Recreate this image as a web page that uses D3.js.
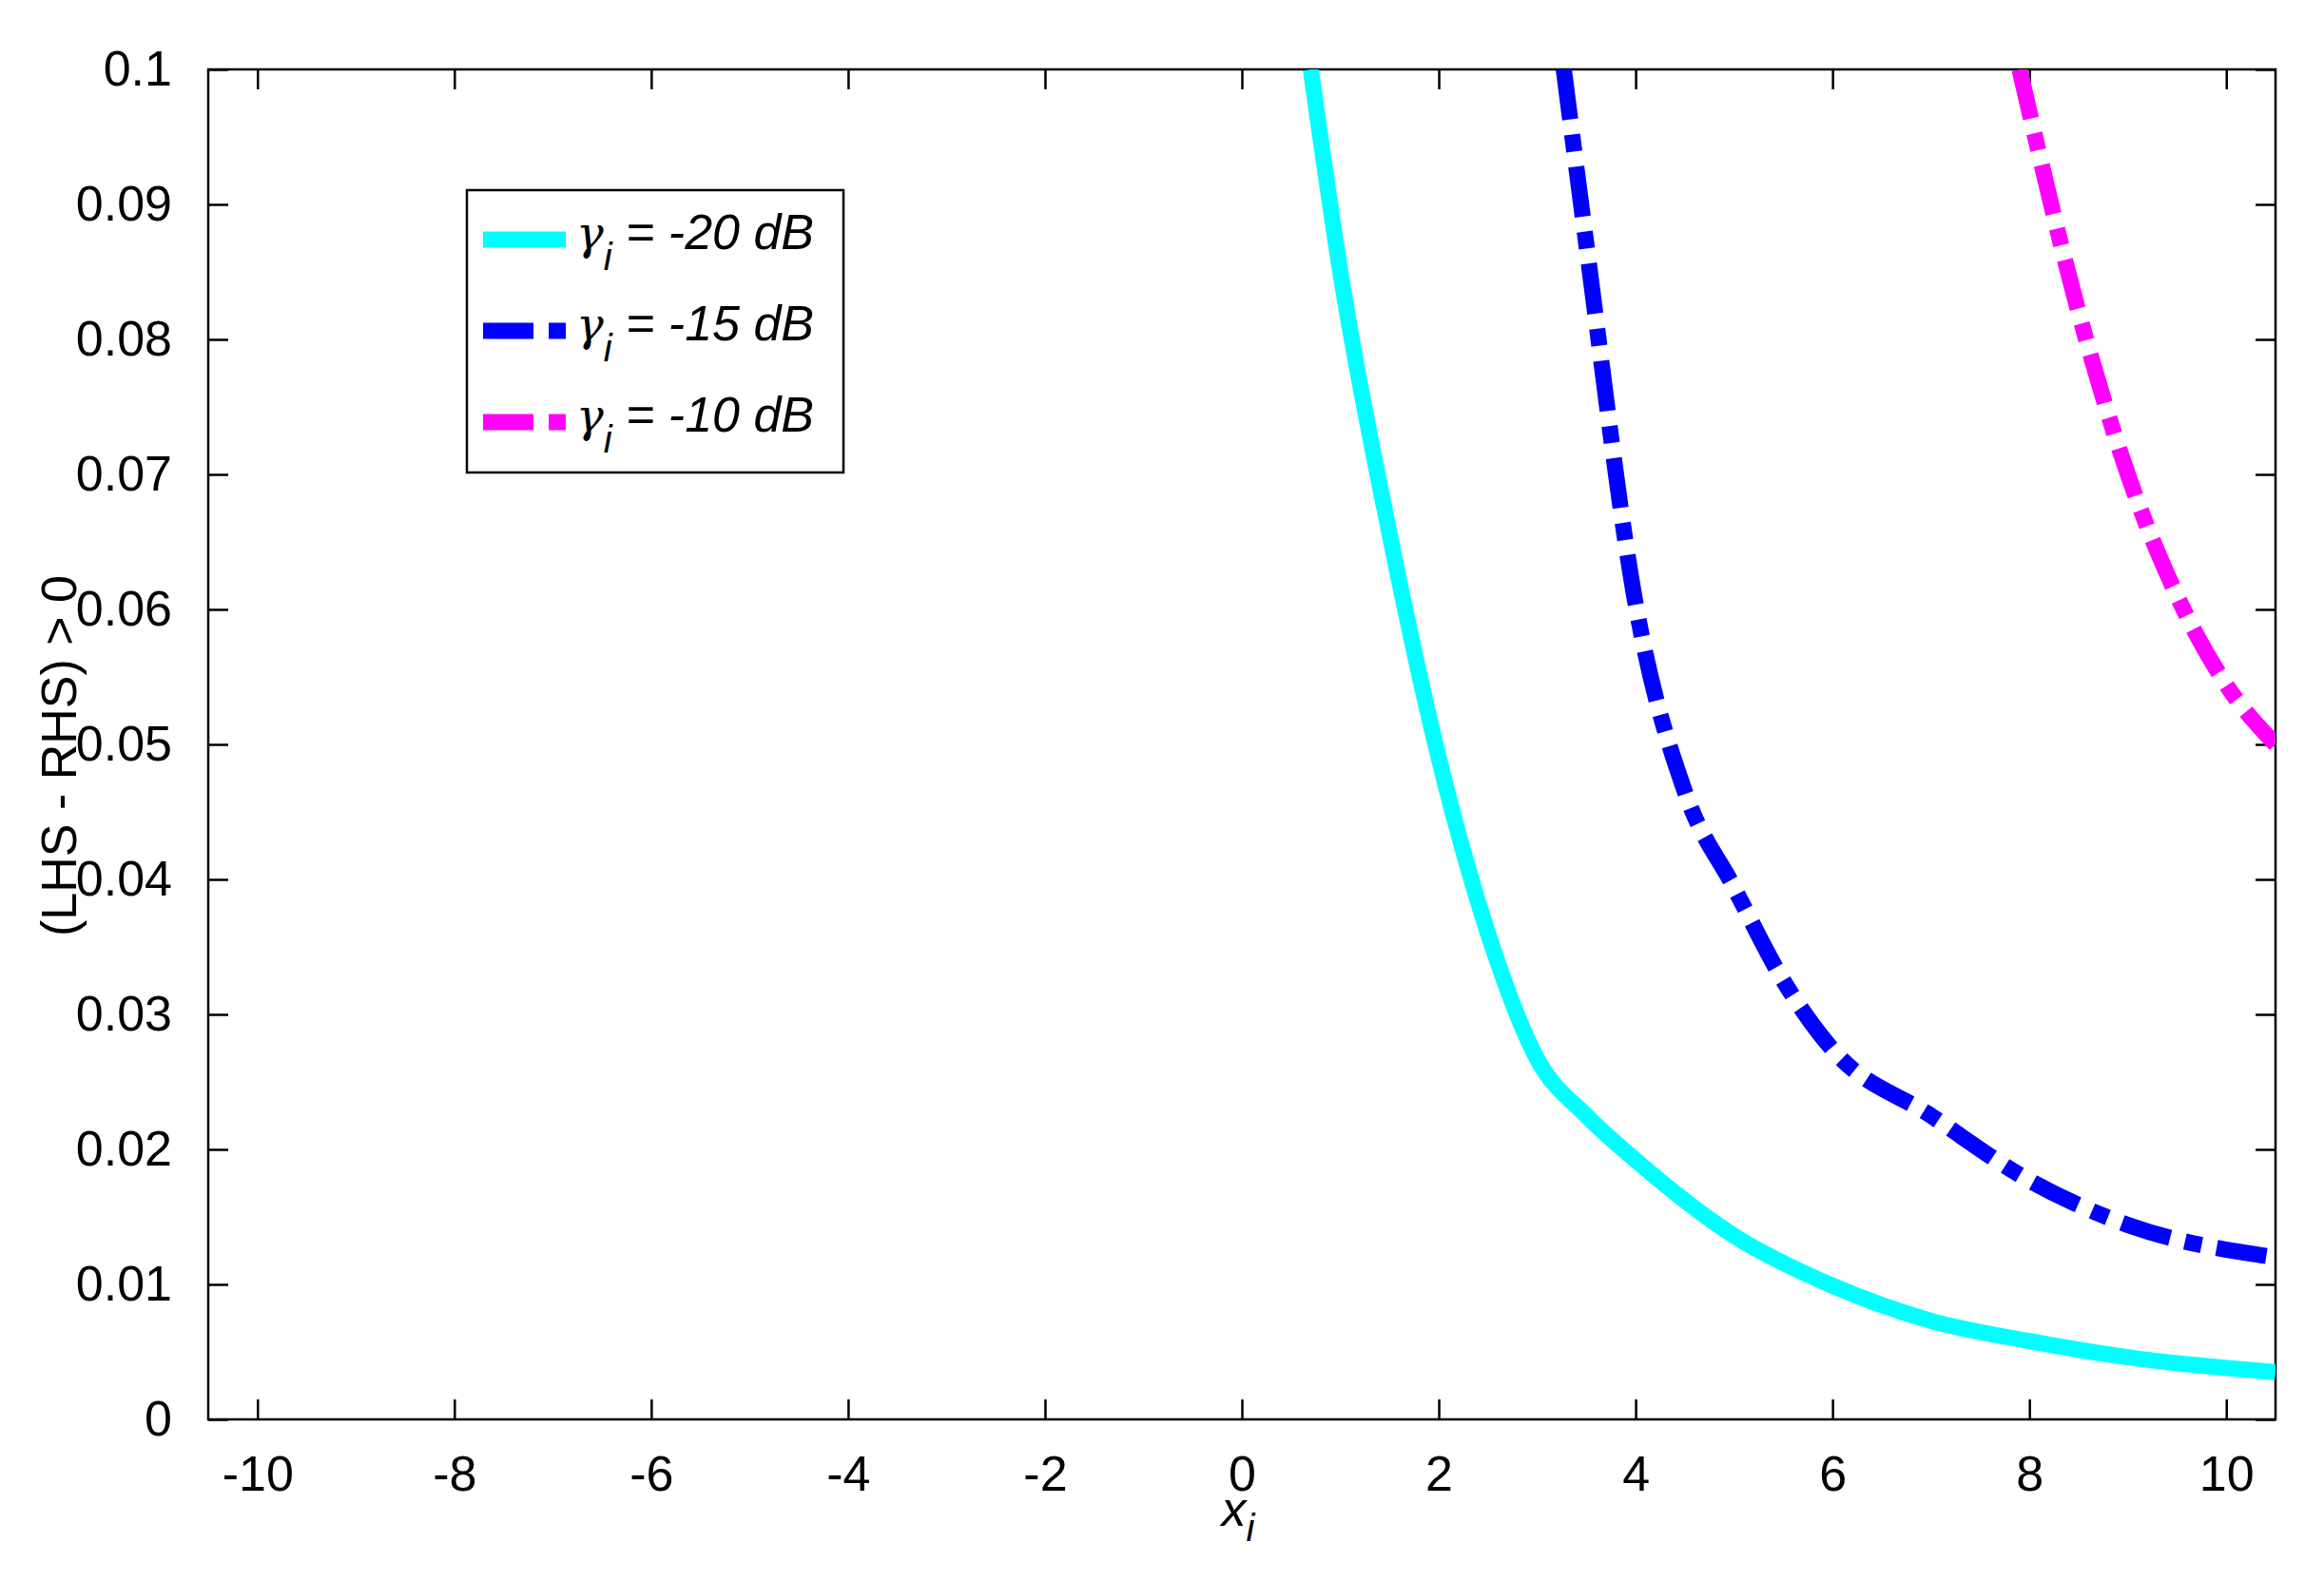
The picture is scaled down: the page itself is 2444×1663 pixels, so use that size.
<!DOCTYPE html>
<html><head><meta charset="utf-8">
<script src="https://cdn.jsdelivr.net/npm/d3@7"></script>
<style>body{margin:0;background:#fff}svg{display:block;font-family:"Liberation Sans",Arial,sans-serif}</style>
</head><body><svg id="c" width="2444" height="1663"></svg>
<script>
const xTicks=[-10,-8,-6,-4,-2,0,2,4,6,8,10];
const yTicks=[0,0.01,0.02,0.03,0.04,0.05,0.06,0.07,0.08,0.09,0.1];
const seriesNames=["-20 dB","-15 dB","-10 dB"];
const seriesColors=["#00ffff","#0000ff","#ff00ff"];
const cyanX=[0.7,1.0,1.5,2.0,2.5,3.0,3.5,4.0,5.0,6.0,7.0,8.0,9.0,10.5];
const cyanY=[0.1,0.085,0.0656,0.049,0.036,0.0267,0.0225,0.0192,0.0136,0.0099,0.0073,0.0058,0.0046,0.0035];
const blueX=[3.27,3.5,4.0,4.5,5.0,5.5,6.0,7.0,8.0,9.0,10.5];
const blueY=[0.1,0.087,0.0604,0.0465,0.0394,0.0325,0.0274,0.0225,0.0177,0.0144,0.012];
const magX=[7.9,8.5,9.0,9.5,10.0,10.5];
const magY=[0.1,0.082,0.070,0.061,0.0544,0.05];

const svg=d3.select("#c");
const L=219,R=2393,T=73,B=1493;
const x=d3.scaleLinear().domain([-10.5,10.5]).range([L,R]);
const y=d3.scaleLinear().domain([0,0.1]).range([B,T]);
svg.append("defs").append("clipPath").attr("id","cp").append("rect").attr("x",L).attr("y",T).attr("width",R-L).attr("height",B-T);

const fs=52, tl=21;
const ax=(g)=>g.selectAll("text").attr("font-size",fs).attr("fill","#000").attr("font-family","Liberation Sans, Arial");
svg.append("g").attr("transform",`translate(0,${B})`).call(d3.axisBottom(x).tickValues(xTicks).tickSize(-tl).tickPadding(tl+17).tickFormat(d=>d)).call(ax);
svg.append("g").attr("transform",`translate(0,${T})`).call(d3.axisTop(x).tickValues(xTicks).tickSize(-tl).tickFormat(""));
svg.append("g").attr("transform",`translate(${L},0)`).call(d3.axisLeft(y).tickValues(yTicks).tickSize(-tl).tickPadding(tl+17).tickFormat(d=>d===0?"0":d3.format(".2~f")(d))).call(ax);
svg.append("g").attr("transform",`translate(${R},0)`).call(d3.axisRight(y).tickValues(yTicks).tickSize(-tl).tickFormat(""));
svg.selectAll(".domain").remove();
svg.selectAll(".tick line").attr("stroke","#000").attr("stroke-width",2.5);
svg.append("rect").attr("x",L).attr("y",T).attr("width",R-L).attr("height",B-T).attr("fill","none").attr("stroke","#000").attr("stroke-width",2.5);

const dash=["none","53,16,18,16","53,16,18,16"];
const data=[[cyanX,cyanY],[blueX,blueY],[magX,magY]];
const line=d3.line().x(d=>x(d[0])).y(d=>y(d[1])).curve(d3.curveMonotoneX);
data.forEach((s,i)=>{
  svg.append("path").attr("clip-path","url(#cp)").datum(s[0].map((v,j)=>[v,s[1][j]])).attr("d",line)
    .attr("fill","none").attr("stroke",seriesColors[i]).attr("stroke-width",17).attr("stroke-dasharray",dash[i]);
});

svg.append("text").attr("x",x(0)-4).attr("y",1605).attr("text-anchor","middle").attr("font-size",fs).attr("font-style","italic")
  .html('x<tspan dy="16" font-size="40">i</tspan>');
svg.append("text").attr("transform","translate(80,795) rotate(-90)").attr("text-anchor","middle").attr("font-size",fs).text("(LHS - RHS) > 0");

const lg=svg.append("g");
lg.append("rect").attr("x",491).attr("y",200).attr("width",396).attr("height",297).attr("fill","#fff").attr("stroke","#000").attr("stroke-width",2.5);
seriesNames.forEach((n,i)=>{
  const cy=252+i*96;
  lg.append("line").attr("x1",508).attr("x2",595).attr("y1",cy).attr("y2",cy).attr("stroke",seriesColors[i]).attr("stroke-width",17).attr("stroke-dasharray",dash[i]);
  lg.append("text").attr("x",606).attr("y",cy+10).attr("font-size",52).attr("font-style","italic")
    .html(`<tspan font-family="DejaVu Serif" font-size="48">γ</tspan><tspan dy="22" font-size="40">i</tspan><tspan dy="-22"> = ${n}</tspan>`);
});
</script></body></html>
